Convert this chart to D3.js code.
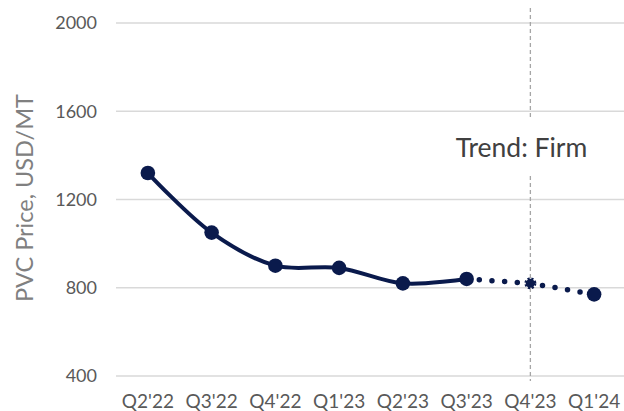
<!DOCTYPE html>
<html><head><meta charset="utf-8">
<script src="https://cdn.jsdelivr.net/npm/d3@7"></script>
<style>
html,body{margin:0;padding:0;background:#fff;}
svg{display:block;font-family:Lato,"Noto Sans",sans-serif;}
</style></head>
<body><svg id="c" width="624" height="411"></svg>
<script>
const categories = ["Q2'22","Q3'22","Q4'22","Q1'23","Q2'23","Q3'23","Q4'23","Q1'24"];
const actualValues = [1320,1050,900,890,820,840];
const forecastValues = [840,820,770]; // Q3'23, Q4'23, Q1'24
const yTicks = [400,800,1200,1600,2000];
const yTitle = "PVC Price, USD/MT";
const annotation = "Trend: Firm";
const markerCategory = "Q4'23";

const navy = "#0a1a4c";
const svg = d3.select("#c");
const x = d3.scaleBand().domain(categories).range([116,626]);
const y = d3.scaleLinear().domain([400,2000]).range([376,23]);
const cx = c => x(c) + x.bandwidth()/2;

// gridlines
svg.append("g").selectAll("line").data(yTicks).join("line")
  .attr("x1",116).attr("x2",624)
  .attr("y1",d=>y(d)).attr("y2",d=>y(d))
  .attr("stroke","#d9d9d9").attr("stroke-width",1.5);

// y axis labels
const yAxis = svg.append("g").attr("transform","translate(104,0)")
  .call(d3.axisLeft(y).tickValues(yTicks).tickFormat(d3.format("d")).tickSize(0).tickPadding(7));
yAxis.select(".domain").remove();
yAxis.selectAll("text").attr("font-size",18).attr("fill","#595959").attr("font-family","Lato");

// x axis labels
const xAxis = svg.append("g").attr("transform","translate(0,389)")
  .call(d3.axisBottom(x).tickSize(0).tickPadding(6));
xAxis.select(".domain").remove();
xAxis.selectAll("text").attr("font-size",19).attr("fill","#595959").attr("font-family","Lato");

// y title
svg.append("text").attr("transform","translate(33,198) rotate(-90)")
  .attr("text-anchor","middle").attr("font-size",23.5).attr("fill","#808080")
  .text(yTitle);

// vertical dashed line
svg.append("line").attr("x1",cx(markerCategory)).attr("x2",cx(markerCategory))
  .attr("y1",8).attr("y2",381)
  .attr("stroke","#a6a6a6").attr("stroke-width",1.3).attr("stroke-dasharray","4,3");

// annotation with white background
const ann = svg.append("g");
ann.append("rect").attr("x",452).attr("y",120).attr("width",140).attr("height",56).attr("fill","#fff");
ann.append("text").attr("x",521.5).attr("y",157).attr("text-anchor","middle")
  .attr("font-size",26.5).attr("fill","#404040").text(annotation);

// actual line
const actual = actualValues.map((v,i)=>({c:categories[i],v}));
const fc = forecastValues.map((v,i)=>({c:categories[actualValues.length-1+i],v}));
const line = d3.line().x(d=>cx(d.c)).y(d=>y(d.v)).curve(d3.curveCatmullRom.alpha(0.5));
svg.append("path").datum(actual).attr("d",line)
  .attr("fill","none").attr("stroke",navy).attr("stroke-width",4).attr("stroke-linejoin","round");

// forecast dotted line
svg.append("path").datum(fc).attr("d",d3.line().x(d=>cx(d.c)).y(d=>y(d.v)))
  .attr("fill","none").attr("stroke",navy).attr("stroke-width",5.5)
  .attr("stroke-linecap","round").attr("stroke-dasharray","0,12.7");

// markers
svg.append("g").selectAll("circle").data(actual).join("circle")
  .attr("cx",d=>cx(d.c)).attr("cy",d=>y(d.v)).attr("r",7.3).attr("fill",navy);
// Q4'23 marker (dotted outline)
svg.append("circle").attr("cx",cx(fc[1].c)).attr("cy",y(fc[1].v)).attr("r",4.5)
  .attr("fill",navy).attr("stroke",navy).attr("stroke-width",3).attr("stroke-dasharray","2,1.6");
// Q1'24 marker
svg.append("circle").attr("cx",cx(fc[2].c)).attr("cy",y(fc[2].v)).attr("r",7.3).attr("fill",navy);
</script></body></html>
